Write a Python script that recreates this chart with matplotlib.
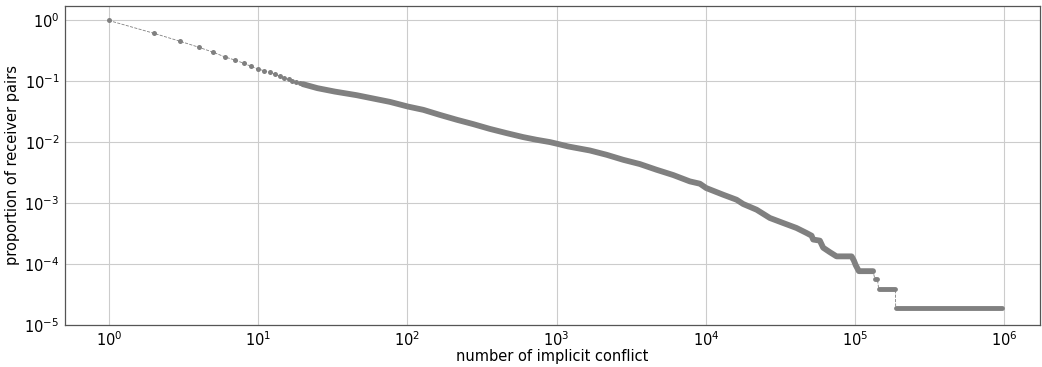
import numpy as np
import matplotlib
matplotlib.use("Agg")
import matplotlib.pyplot as plt

# ---- data ----
# small counts: one point per integer value
sparse_x = [1, 2, 3, 4, 5, 6, 7, 8, 9, 10, 11, 12, 13, 14, 15, 16, 17, 18, 19, 20]
sparse_y = [1.0, 0.617, 0.456, 0.364, 0.301, 0.252, 0.224, 0.199, 0.176, 0.160,
            0.149, 0.140, 0.131, 0.121, 0.113, 0.108, 0.102, 0.098, 0.094, 0.090]

# larger counts: points are packed so tightly they form a solid band
dense_x = [20, 25, 32.7, 45.7, 59.1, 76.4, 101, 128, 165, 215, 276, 357, 462, 597,
           734, 902, 1010, 1197, 1671, 2161, 2793, 3614, 4675, 6043, 7816, 9120,
           10050, 13060, 16060, 17790, 21870, 26840, 32960, 40470, 47290, 51090,
           52350, 58030, 61090, 67740, 75100, 94700, 98000, 101000, 106000, 131900]
dense_y = [0.090, 0.0774, 0.068, 0.0594, 0.0523, 0.0461, 0.0386, 0.0341, 0.0282,
           0.0234, 0.0199, 0.0166, 0.01415, 0.01217, 0.0110, 0.01008, 0.00945,
           0.00854, 0.00734, 0.00624, 0.00516, 0.00439, 0.00354, 0.0029, 0.00228,
           0.00209, 0.001775, 0.001378, 0.00114, 0.00097, 0.000782, 0.000572,
           0.000473, 0.000392, 0.000324, 0.000293, 0.000253, 0.000243, 0.000186,
           0.000157, 0.000134, 0.000134, 0.000115, 0.0000957, 0.0000766, 0.0000766]

# tail plateaus: (first x, last x, proportion)
tail_start = [135500, 144000, 187000]
tail_end = [140900, 186000, 960000]
tail_level = [5.74e-5, 3.83e-5, 1.91e-5]

COLOR = "gray"

fig = plt.figure(figsize=(10.42, 3.67), dpi=100)
ax = fig.add_axes([0.0624, 0.1144, 0.9356, 0.8693])

# thin dashed line joining every point in order
line_x = list(sparse_x) + list(dense_x[1:])
line_y = list(sparse_y) + list(dense_y[1:])
for xs, xe, lv in zip(tail_start, tail_end, tail_level):
    line_x += [xs, xe]
    line_y += [lv, lv]
ax.plot(line_x, line_y, "--", color=COLOR, linewidth=0.6, zorder=2)

# separate markers
ax.plot(sparse_x, sparse_y, "o", color=COLOR, markersize=3.6,
        markeredgewidth=0, zorder=3)

# packed markers drawn as a solid band
band = dict(color=COLOR, solid_capstyle="round", solid_joinstyle="round", zorder=3)
ax.plot(dense_x, dense_y, "-", linewidth=4.2, **band)
for xs, xe, lv in zip(tail_start, tail_end, tail_level):
    ax.plot([xs, xe], [lv, lv], "-", linewidth=3.5, **band)

ax.set_xscale("log")
ax.set_yscale("log")
ax.set_xlim(0.509, 1.73e6)
ax.set_ylim(1e-5, 1.73)
ax.set_xticks([1, 10, 1e2, 1e3, 1e4, 1e5, 1e6])
ax.set_yticks([1e-5, 1e-4, 1e-3, 1e-2, 1e-1, 1])
ax.minorticks_off()
ax.tick_params(length=0, labelsize=10.5, pad=4)

ax.grid(True, color="#cccccc", linewidth=0.8)
ax.set_axisbelow(True)
for s in ax.spines.values():
    s.set_color("#555555")
    s.set_linewidth(0.9)

ax.set_xlabel("number of implicit conflict", fontsize=10.5, labelpad=0)
ax.set_ylabel("proportion of receiver pairs", fontsize=10.5, labelpad=3)

fig.savefig("out.png", dpi=100)
